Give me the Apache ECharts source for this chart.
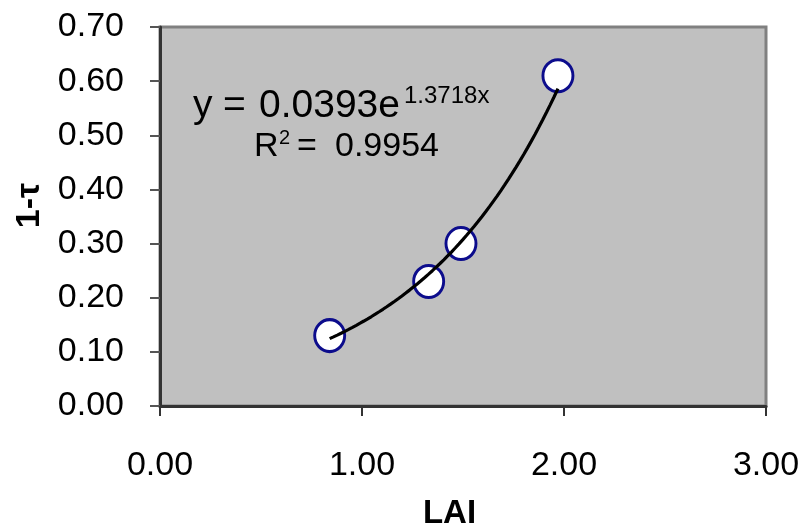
<!DOCTYPE html>
<html>
<head>
<meta charset="utf-8">
<script src="https://cdn.jsdelivr.net/npm/echarts@6/dist/echarts.min.js"></script>
<style>
html,body{margin:0;padding:0;background:#fff;}
#chart{width:803px;height:531px;}
</style>
</head>
<body>
<div id="chart"></div>
<script>
// Data
var laiValues = [0.84, 1.33, 1.49, 1.97];
var oneMinusTau = [0.13, 0.23, 0.30, 0.61];
var xTicks = [0, 1, 2, 3];
var yTicks = [0, 0.1, 0.2, 0.3, 0.4, 0.5, 0.6, 0.7];
// Exponential trendline shown in the chart: y = a * e^(b x)
var trendA = 0.0393;
var trendB = 1.3718;
var trendRange = [0.84, 1.97];
var eqMain = '0.0393e';
var eqExp = '1.3718x';
var r2Value = '0.9954';

var pts = laiValues.map(function (x, i) { return [x, oneMinusTau[i]]; });
var trend = [];
var n = 60;
for (var i = 0; i <= n; i++) {
  var x = trendRange[0] + (trendRange[1] - trendRange[0]) * i / n;
  trend.push([x, trendA * Math.exp(trendB * x)]);
}

var FONT = 'Liberation Sans, Arial, sans-serif';
var chart = echarts.init(document.getElementById('chart'));
chart.setOption({
  animation: false,
  backgroundColor: '#ffffff',
  grid: {
    left: 160, top: 27, right: 37, bottom: 125,
    containLabel: false, outerBoundsMode: 'none',
    show: true, backgroundColor: '#c0c0c0',
    borderColor: '#808080', borderWidth: 3
  },
  xAxis: {
    type: 'value', min: 0, max: 3, interval: 1,
    name: 'LAI', nameLocation: 'middle', nameGap: 91,
    nameTextStyle: { fontFamily: FONT, fontSize: 33, fontWeight: 'bold', color: '#000', padding: [0, 27, 0, 0] },
    axisLine: { show: true, lineStyle: { color: '#333', width: 3 } },
    axisTick: { show: true, length: 10, lineStyle: { color: '#333', width: 2 } },
    axisLabel: { margin: 43, fontFamily: FONT, fontSize: 34, color: '#000',
      formatter: function (v) { return v.toFixed(2); } },
    splitLine: { show: false }
  },
  yAxis: {
    type: 'value', min: 0, max: 0.7, interval: 0.1,
    name: '1-τ', nameLocation: 'middle', nameGap: 112, nameRotate: 90,
    nameTextStyle: { fontFamily: FONT, fontSize: 34, fontWeight: 'bold', color: '#000', padding: [0, 0, 0, 22] },
    axisLine: { show: true, lineStyle: { color: '#333', width: 3 } },
    axisTick: { show: true, length: 10, lineStyle: { color: '#555', width: 2 } },
    axisLabel: { margin: 36, fontFamily: FONT, fontSize: 34, color: '#000',
      formatter: function (v) { return v.toFixed(2); } },
    splitLine: { show: false }
  },
  series: [
    {
      type: 'scatter', data: pts, symbol: 'circle', symbolSize: [30, 32], z: 2,
      itemStyle: { color: '#ffffff', opacity: 1, borderColor: '#0c0c8c', borderWidth: 3 },
      emphasis: { disabled: true }
    },
    {
      type: 'line', data: trend, showSymbol: false, smooth: false, z: 3,
      lineStyle: { color: '#000', width: 3.2 },
      emphasis: { disabled: true }
    }
  ],
  graphic: [
    { type: 'text', left: 193, top: 87, z: 10, style: { text: 'y', fontFamily: FONT, fontSize: 39, fill: '#000' } },
    { type: 'text', left: 223, top: 87, z: 10, style: { text: '=', fontFamily: FONT, fontSize: 39, fill: '#000' } },
    { type: 'text', left: 259, top: 87, z: 10, style: { text: eqMain, fontFamily: FONT, fontSize: 39, fill: '#000' } },
    { type: 'text', left: 404, top: 84, z: 10, style: { text: eqExp, fontFamily: FONT, fontSize: 24, fill: '#000' } },
    { type: 'text', left: 254, top: 130, z: 10, style: { text: 'R', fontFamily: FONT, fontSize: 34, fill: '#000' } },
    { type: 'text', left: 279, top: 128, z: 10, style: { text: '2', fontFamily: FONT, fontSize: 20, fill: '#000' } },
    { type: 'text', left: 297, top: 130, z: 10, style: { text: '=', fontFamily: FONT, fontSize: 34, fill: '#000' } },
    { type: 'text', left: 335, top: 130, z: 10, style: { text: r2Value, fontFamily: FONT, fontSize: 34, fill: '#000' } }
  ]
});
</script>
</body>
</html>
